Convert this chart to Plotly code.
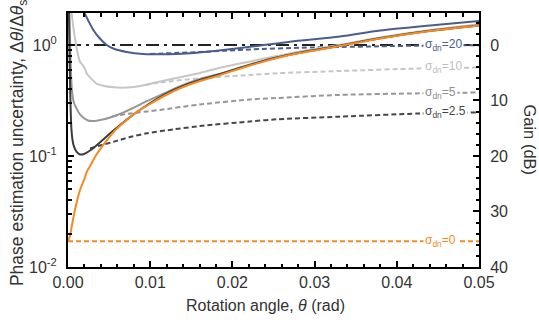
import numpy as np
import plotly.graph_objects as go

# ---------------- data ----------------
# sigma_dn = 0 (orange)
theta_s0 = [0, 0.00024, 0.00045, 0.00085, 0.00146, 0.00195, 0.00231, 0.00280, 0.00328, 0.00398,
            0.00474, 0.00560, 0.00657, 0.00763, 0.00876, 0.00998, 0.01168, 0.01399, 0.01606,
            0.01813, 0.02214, 0.02543, 0.02822, 0.03309, 0.03796, 0.04404, 0.05]
unc_s0 = [0.0171, 0.0190, 0.0231, 0.0327, 0.0494, 0.0608, 0.0725, 0.0838, 0.0980, 0.117,
          0.139, 0.166, 0.194, 0.226, 0.260, 0.294, 0.347, 0.418, 0.474,
          0.526, 0.654, 0.764, 0.847, 0.979, 1.144, 1.337, 1.50]

# sigma_dn = 2.5 (dark gray)
theta_s25 = [0.00011, 0.00018, 0.00028, 0.00040, 0.00055, 0.00073, 0.00106, 0.00146, 0.00195,
             0.00276, 0.00398, 0.00560, 0.00763, 0.00965, 0.01168, 0.01399, 0.01606, 0.01813,
             0.02214, 0.02543, 0.02822, 0.03309, 0.03796, 0.04404, 0.05]
unc_s25 = [1.94, 0.902, 0.355, 0.1836, 0.1394, 0.1213, 0.1087, 0.1031, 0.1043,
           0.1133, 0.1346, 0.1715, 0.227, 0.288, 0.355, 0.427, 0.484, 0.537,
           0.661, 0.770, 0.852, 0.986, 1.15, 1.34, 1.50]

# sigma_dn = 5 (mid gray)
theta_s5 = [0.00018, 0.00028, 0.00040, 0.00052, 0.00073, 0.00113, 0.00146, 0.00195, 0.00243,
            0.00296, 0.00365, 0.00438, 0.00600, 0.00763, 0.00965, 0.01168, 0.01399, 0.01606,
            0.01813, 0.02214, 0.02543, 0.02822, 0.03309, 0.03796, 0.04404, 0.05]
unc_s5 = [1.94, 0.902, 0.484, 0.367, 0.300, 0.260, 0.2365, 0.219, 0.209,
          0.2066, 0.209, 0.214, 0.234, 0.264, 0.313, 0.366, 0.436, 0.494,
          0.542, 0.667, 0.775, 0.856, 0.990, 1.156, 1.345, 1.51]

# sigma_dn = 10 (light gray)
theta_s10 = [0.00045, 0.00061, 0.00085, 0.00109, 0.00146, 0.00195, 0.00231, 0.00280, 0.00353,
             0.00438, 0.00596, 0.00718, 0.00839, 0.00998, 0.01119, 0.01290, 0.01606, 0.01813,
             0.02214, 0.02543, 0.02822, 0.03309, 0.03796, 0.04404, 0.05]
unc_s10 = [1.94, 1.51, 1.149, 0.902, 0.707, 0.634, 0.548, 0.499, 0.446,
           0.427, 0.414, 0.414, 0.423, 0.446, 0.469, 0.499, 0.560, 0.614,
           0.710, 0.796, 0.874, 1.004, 1.168, 1.365, 1.54]

# sigma_dn = 20 (blue)
theta_s20 = [0.00201, 0.00243, 0.00308, 0.00377, 0.00471, 0.00551, 0.00714, 0.00916, 0.01119,
             0.01322, 0.01566, 0.01889, 0.02296, 0.02701, 0.03309, 0.03796, 0.04404, 0.05]
unc_s20 = [1.94, 1.68, 1.365, 1.168, 1.0, 0.930, 0.865, 0.830, 0.824,
           0.830, 0.852, 0.902, 0.979, 1.071, 1.19, 1.35, 1.50, 1.645]

# dashed reference curves
theta_d20 = [0.00998, 0.01606, 0.02214, 0.02822, 0.03309, 0.03796, 0.04282, 0.05]
unc_d20 = [0.83, 0.865, 0.911, 0.944, 0.959, 0.973, 0.986, 0.994]

theta_d10 = [0.00937, 0.01119, 0.01606, 0.02214, 0.02543, 0.03309, 0.04282, 0.05]
unc_d10 = [0.436, 0.459, 0.501, 0.537, 0.556, 0.583, 0.614, 0.627]

theta_d5 = [0.00535, 0.00754, 0.00965, 0.01119, 0.01606, 0.02214, 0.02543, 0.03309, 0.04282, 0.05]
unc_d5 = [0.227, 0.2415, 0.252, 0.260, 0.291, 0.323, 0.333, 0.355, 0.367, 0.373]

theta_d25 = [0.00268, 0.00389, 0.00560, 0.00754, 0.00961, 0.01290, 0.01606, 0.02214, 0.02543,
             0.03309, 0.04282, 0.05]
unc_d25 = [0.1168, 0.1243, 0.1346, 0.148, 0.160, 0.174, 0.186, 0.2046, 0.214,
           0.226, 0.2415, 0.2465]

theta_d0 = [0, 0.05]
unc_d0 = [0.0171, 0.0171]

theta_ref = [0, 0.05]
unc_ref = [1.0, 1.0]

labels = ["σ<sub>dn</sub>=20", "σ<sub>dn</sub>=10", "σ<sub>dn</sub>=5",
          "σ<sub>dn</sub>=2.5", "σ<sub>dn</sub>=0"]
label_x = 0.0432

x_ticks = [0.00, 0.01, 0.02, 0.03, 0.04, 0.05]
y_tickvals = [0.01, 0.1, 1]
y_ticktext = ["10<sup>-2</sup>", "10<sup>-1</sup>", "10<sup>0</sup>"]
gain_ticks = [0, 10, 20, 30, 40]

# ---------------- styling ----------------
C_BLUE = "#4b5d8d"
C_LIGHT = "#c6c6c6"
C_MID = "#979797"
C_DARK = "#3c3c3c"
C_DARKD = "#474747"
C_ORANGE = "#f58a1f"
FONT = "Liberation Sans, Arial, sans-serif"
TXT = "#333333"

fig = go.Figure()

def add(x, y, color, dash="solid", width=2.0, shape="spline"):
    fig.add_trace(go.Scatter(x=x, y=y, mode="lines", showlegend=False, hoverinfo="skip",
                             line=dict(color=color, width=width, dash=dash, shape=shape,
                                       smoothing=0.8)))

DASH = "5px,3px"
add(theta_d0, unc_d0, C_ORANGE, DASH, shape="linear")
add(theta_d25, unc_d25, C_DARKD, DASH)
add(theta_d5, unc_d5, C_MID, DASH)
add(theta_d10, unc_d10, C_LIGHT, DASH)
add(theta_ref, unc_ref, "#222222", "13px,5px,3px,5px", shape="linear")
add(theta_d20, unc_d20, C_BLUE, DASH)

add(theta_s10, unc_s10, C_LIGHT)
add(theta_s5, unc_s5, C_MID)
add(theta_s25, unc_s25, C_DARK)
add(theta_s20, unc_s20, C_BLUE)
add(theta_s0, unc_s0, C_ORANGE)

# invisible trace to activate the gain axis
fig.add_trace(go.Scatter(x=[0.025], y=[20], yaxis="y2", mode="markers", showlegend=False,
                         hoverinfo="skip", marker=dict(opacity=0)))

# labels on dashed lines
label_series = [(unc_d20, C_BLUE), (unc_d10, "#bdbdbd"), (unc_d5, "#8e8e8e"),
                (unc_d25, C_DARKD), (unc_d0, C_ORANGE)]
for text, (ys, col) in zip(labels, label_series):
    fig.add_annotation(x=label_x, y=float(np.log10(ys[-1])), xref="x", yref="y",
                       text=text, showarrow=False, xanchor="left", yanchor="middle",
                       bgcolor="white", borderpad=1,
                       font=dict(family=FONT, size=12, color=col))

# axis titles
fig.add_annotation(x=-0.1204, y=0.49, xref="paper", yref="paper", textangle=-90,
                   xanchor="center", yanchor="middle",
                   text="Phase estimation uncertainty, Δ<i>θ</i>/Δ<i>θ</i><sub>s</sub>",
                   showarrow=False, font=dict(family=FONT, size=17.5, color=TXT))
fig.add_annotation(x=0.48, y=-0.152, xref="paper", yref="paper",
                   xanchor="center", yanchor="middle",
                   text="Rotation angle, <i>θ</i> (rad)", showarrow=False,
                   font=dict(family=FONT, size=16, color=TXT))
fig.add_annotation(x=1.123, y=0.5, xref="paper", yref="paper", textangle=90,
                   xanchor="center", yanchor="middle",
                   text="Gain (dB)", showarrow=False,
                   font=dict(family=FONT, size=16.5, color=TXT))

top_log = 0.288
fig.update_layout(
    width=539, height=324,
    margin=dict(l=68, r=60, t=13, b=57, pad=0),
    paper_bgcolor="white", plot_bgcolor="white",
    font=dict(family=FONT, size=16, color=TXT),
    xaxis=dict(range=[0, 0.05], tickvals=x_ticks, tickformat=".2f",
               showline=True, linecolor="black", linewidth=2, mirror="ticks",
               ticks="inside", ticklen=6, tickwidth=2, tickcolor="black",
               showgrid=False, zeroline=False, ticklabelstandoff=0, automargin=False,
               minor=dict(dtick=0.002, ticks="inside", ticklen=3.5, tickwidth=1.5,
                          tickcolor="black", showgrid=False)),
    yaxis=dict(type="log", range=[-2, top_log], tickvals=y_tickvals, ticktext=y_ticktext,
               showline=True, linecolor="black", linewidth=2, mirror=False,
               ticks="inside", ticklen=6, tickwidth=2, tickcolor="black",
               showgrid=False, zeroline=False, ticklabelstandoff=6, automargin=False,
               minor=dict(dtick="D1", ticks="inside", ticklen=3.5, tickwidth=1.5,
                          tickcolor="black", showgrid=False)),
    yaxis2=dict(overlaying="y", side="right", range=[40, -20 * top_log],
                tickvals=gain_ticks, showline=True, linecolor="black", linewidth=2,
                ticks="inside", ticklen=6, tickwidth=2, tickcolor="black",
                showgrid=False, zeroline=False, ticklabelstandoff=6, automargin=False,
                minor=dict(dtick=2, tick0=0, ticks="inside", ticklen=3.5, tickwidth=1.5,
                           tickcolor="black", showgrid=False)),
)

fig.write_html("out.html", config={"displayModeBar": False},
               post_script="document.body.style.margin='0';")
